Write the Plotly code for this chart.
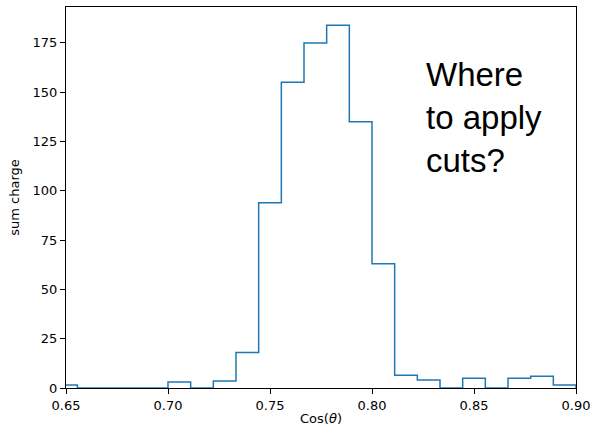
import numpy as np
import plotly.graph_objects as go

# Histogram bins: width 1/90, edges aligned on 0.6 + k/90 (bins k = 4..26)
bin_index = list(range(4, 27))
counts = [1.5, 0, 0, 0, 0, 3, 0, 3.5, 18, 94, 155, 175, 184, 135, 63, 6.5, 4, 0, 5, 0, 5, 6, 1.5]
x_ticks = [0.65, 0.70, 0.75, 0.80, 0.85, 0.90]
y_ticks = [0, 25, 50, 75, 100, 125, 150, 175]

bin_width = 0.4 / 36
edges = [0.6 + k * bin_width for k in bin_index] + [0.6 + (bin_index[-1] + 1) * bin_width]

# step outline like matplotlib histtype='step'
xs = [edges[0]] + edges[:-1] + [edges[-1], edges[-1]]
ys = [0] + counts + [counts[-1], 0]

fig = go.Figure()
fig.add_trace(go.Scatter(
    x=xs, y=ys, mode="lines", line=dict(shape="hv", color="#1f77b4", width=1.5),
    hoverinfo="skip", showlegend=False,
))

tick_font = dict(family="DejaVu Sans", size=13, color="black")
fig.update_layout(
    width=595, height=435,
    margin=dict(l=66, r=19, t=7, b=47, autoexpand=False),
    paper_bgcolor="white", plot_bgcolor="white",
    xaxis=dict(
        range=[0.65, 0.90], tickvals=x_ticks, ticktext=[f"{v:.2f}" for v in x_ticks],
        showgrid=False, zeroline=False, showline=True, linecolor="black", linewidth=1,
        mirror=True, ticks="outside", ticklen=5, tickcolor="black", tickfont=tick_font,
        title=dict(text="Cos(<i>θ</i>)", font=tick_font, standoff=2),
        automargin=False,
    ),
    yaxis=dict(
        range=[0, 193.2], tickvals=y_ticks,
        showgrid=False, zeroline=False, showline=True, linecolor="black", linewidth=1,
        mirror=True, ticks="outside", ticklen=5, tickcolor="black", tickfont=tick_font,
        title=dict(text="sum charge", font=tick_font, standoff=10),
        automargin=False,
    ),
    annotations=[dict(
        text="Where<br>to apply<br>cuts?", xref="paper", yref="paper",
        x=(424 - 66) / 510, y=(388 - 54) / 381, xanchor="left", yanchor="top",
        showarrow=False, align="left",
        font=dict(family="Liberation Sans, Arial", size=33, color="black"),
    )],
)

fig.write_html("out.html", config={"displayModeBar": False},
               post_script="document.body.style.margin='0';")
